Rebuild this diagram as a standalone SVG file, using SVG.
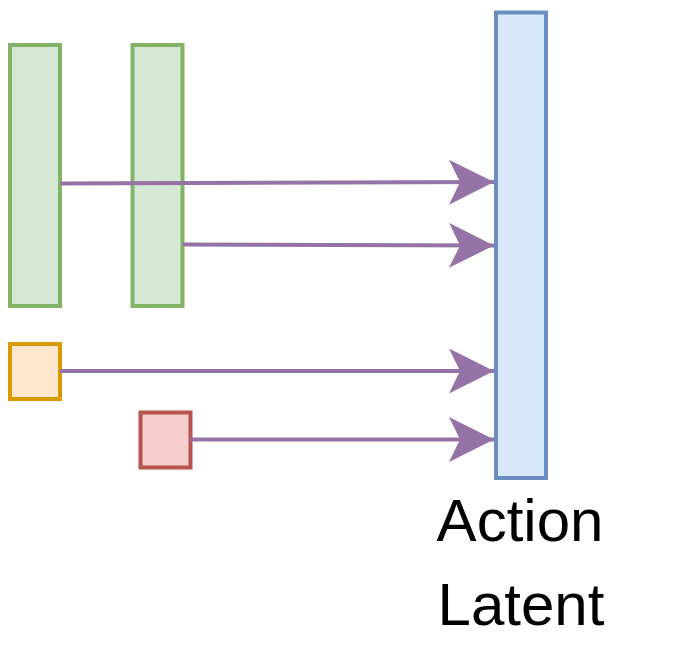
<svg xmlns="http://www.w3.org/2000/svg" width="685" height="655" viewBox="0 0 685 655">
  <style>
    .box { stroke-width: 4; }
    .green { fill: #d5e8d4; stroke: #82b366; }
    .orange { fill: #ffe6cc; stroke: #d79b00; }
    .red { fill: #f8cecc; stroke: #b85450; }
    .blue { fill: #dae8fc; stroke: #6c8ebf; }
    .edge { fill: none; stroke: #9673a6; stroke-width: 4; marker-end: url(#arrow); }
    .label { font-family: "Liberation Sans", Arial, Helvetica, sans-serif; font-size: 60px; fill: #000000; text-anchor: middle; }
  </style>
  <defs>
    <marker id="arrow" markerUnits="userSpaceOnUse" markerWidth="46" markerHeight="46" refX="45" refY="22.5" orient="auto" viewBox="0 0 46 46">
      <path d="M0,0 L45,22.5 L0,45 L11,22.5 Z" fill="#9673a6"/>
    </marker>
  </defs>
  <rect width="685" height="655" fill="#ffffff"/>
  <g id="nodes">
    <g id="green1"><rect class="box green" x="10" y="45" width="50" height="261"/></g>
    <g id="green2"><rect class="box green" x="132.5" y="45" width="50" height="261"/></g>
    <g id="orange"><rect class="box orange" x="10" y="344" width="50" height="55"/></g>
    <g id="red"><rect class="box red" x="140.5" y="412.5" width="50" height="55"/></g>
    <g id="action-latent">
      <rect class="box blue" x="496" y="12.5" width="50" height="465.5"/>
      <text class="label" x="520" y="541">Action</text>
      <text class="label" x="521" y="625">Latent</text>
    </g>
  </g>
  <g id="connectors">
    <path class="edge" d="M60,183.5 L494,182"/>
    <path class="edge" d="M182.5,244.5 L494,245.5"/>
    <path class="edge" d="M60,371 L494,371"/>
    <path class="edge" d="M190.5,439.5 L494,439.5"/>
  </g>
</svg>
